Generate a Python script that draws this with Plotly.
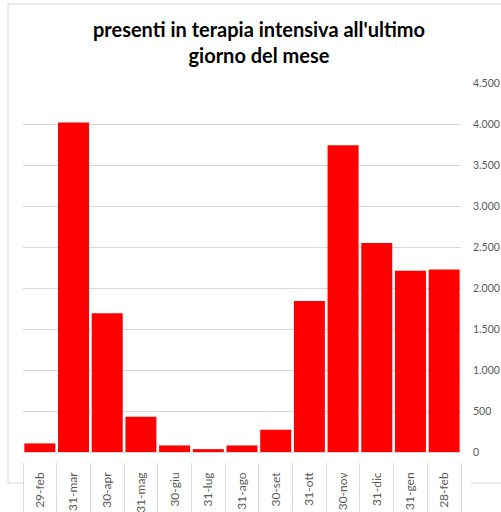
import plotly.graph_objects as go

# ---- data ----
categories = ["29-feb", "31-mar", "30-apr", "31-mag", "30-giu", "31-lug", "31-ago",
              "30-set", "31-ott", "30-nov", "31-dic", "31-gen", "28-feb"]
values = [105, 4023, 1694, 430, 80, 35, 80, 272, 1843, 3744, 2553, 2212, 2228]
y_ticks = [0, 500, 1000, 1500, 2000, 2500, 3000, 3500, 4000, 4500]
title_text = "presenti in terapia intensiva all'ultimo<br>giorno del mese"

W, H = 501, 512
L, R, T, B = 23, 40, 83, 50
PW, PH = W - L - R, H - T - B


def px_x(p):
    return (p - L) / PW


def px_y(p):
    return (H - B - p) / PH


fig = go.Figure()
fig.add_trace(go.Bar(
    x=categories, y=values,
    marker=dict(color="#FF0000", line=dict(width=0)),
    xaxis="x", yaxis="y", hoverinfo="x+y",
))
# invisible trace to carry boundary ticks on the overlay axis
fig.add_trace(go.Scatter(
    x=categories, y=[0] * len(categories), mode="markers",
    marker=dict(opacity=0), xaxis="x2", yaxis="y", hoverinfo="skip",
    showlegend=False,
))

grey = "#d9d9d9"
shapes = [
    dict(type="line", xref="paper", yref="paper", x0=px_x(8), x1=px_x(8),
         y0=px_y(4), y1=px_y(483), line=dict(color=grey, width=1)),
    dict(type="line", xref="paper", yref="paper", x0=px_x(8), x1=px_x(505),
         y0=px_y(4), y1=px_y(4), line=dict(color=grey, width=1)),
    dict(type="line", xref="paper", yref="paper", x0=px_x(8), x1=px_x(23),
         y0=px_y(483), y1=px_y(483), line=dict(color=grey, width=1)),
    dict(type="line", xref="paper", yref="paper", x0=px_x(471), x1=px_x(505),
         y0=px_y(483), y1=px_y(483), line=dict(color=grey, width=1)),
]

fig.update_layout(
    width=W, height=H,
    margin=dict(l=L, r=R, t=T, b=B, pad=0, autoexpand=False),
    paper_bgcolor="white", plot_bgcolor="white",
    separators=",.",
    showlegend=False,
    bargap=0.08,
    font=dict(family="Lato, 'Open Sans', sans-serif", color="#595959", size=12),
    title=dict(text=title_text, x=0.517, xanchor="center", y=0.927, yanchor="top",
               font=dict(family="Lato, 'Open Sans', sans-serif", size=20,
                         color="#000000", weight="bold")),
    xaxis=dict(type="category", categoryorder="array", categoryarray=categories,
               range=[-0.5, len(categories) - 0.5], automargin=False,
               showgrid=False, showline=False, zeroline=False, ticks="",
               tickangle=-90, ticklabelstandoff=7,
               tickfont=dict(size=12, color="#595959")),
    xaxis2=dict(type="category", categoryorder="array", categoryarray=categories,
                range=[-0.5, len(categories) - 0.5], overlaying="x", anchor="y",
                side="bottom", showticklabels=False, showgrid=False, showline=False,
                zeroline=False, ticks="outside", ticklen=50, tickwidth=1,
                tickcolor=grey, tickson="boundaries", automargin=False),
    yaxis=dict(side="right", range=[-122, 4505], tickvals=y_ticks, automargin=False,
               tickformat=",d", showgrid=True, gridcolor=grey, gridwidth=1,
               zeroline=False, showline=False, ticks="", ticklabelstandoff=11,
               tickfont=dict(size=10.5, color="#595959")),
    shapes=shapes,
)

fig.write_html("out.html",
               config={"displayModeBar": False},
               post_script="document.body.style.margin='0';document.body.style.overflow='hidden';")
